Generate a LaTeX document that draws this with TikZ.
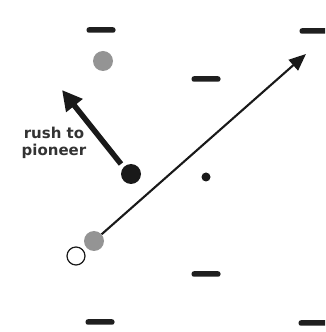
\documentclass[tikz,border=0pt]{standalone}
\usepackage{fontspec}
\newfontfamily\labelfont{DejaVu Sans Bold}
\usetikzlibrary{arrows.meta}
\begin{document}
\begin{tikzpicture}[x=1pt,y=1pt,
  dashmark/.style={draw=none,fill=black!88,rounded corners=2.4pt,minimum width=29pt,minimum height=5.5pt,inner sep=0pt},
  graydot/.style={circle,fill=black!42,minimum size=20pt,inner sep=0pt},
  blackdot/.style={circle,fill=black!90,minimum size=20pt,inner sep=0pt},
  smalldot/.style={circle,fill=black!90,minimum size=9pt,inner sep=0pt},
  whitedot/.style={circle,draw=black!90,line width=1.2pt,fill=white,minimum size=18pt,inner sep=0pt},
  lbl/.style={font=\labelfont\fontsize{15}{17}\selectfont,text=black!80,align=center,inner sep=0pt}]
\clip (0,0) rectangle (325,332);
\useasboundingbox (0,0) rectangle (325,332);
% dashes
\node[dashmark] (d1) at (101,302) {};
\node[dashmark] (d2) at (314,301) {};
\node[dashmark] (d3) at (206,253) {};
\node[dashmark] (d4) at (206,58) {};
\node[dashmark] (d5) at (100,10) {};
\node[dashmark] (d6) at (313,9) {};
% dots
\node[graydot] (g1) at (103,271) {};
\node[blackdot] (b1) at (131,158) {};
\node[smalldot] (s1) at (206,155) {};
\node[whitedot] (w1) at (76,76) {};
\node[graydot] (g2) at (94,91) {};
% arrows
\coordinate (t1s) at (121,168);
\coordinate (t1e) at (62,242);
\draw[line width=5.5pt,black!90,-{Triangle[length=20pt,width=20pt]}] (t1s) -- (t1e);
\coordinate (t2e) at (306,278);
\draw[line width=2.1pt,black!90,-{Triangle[length=17pt,width=14pt]}] (g2) -- (t2e);
% label
\node[lbl] (lab) at (54,189) {rush to\\pioneer};
\end{tikzpicture}
\end{document}
